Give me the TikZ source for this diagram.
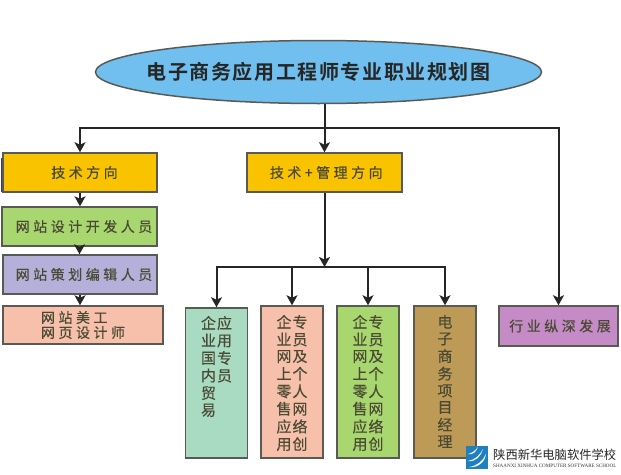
\documentclass[tikz,border=0pt]{standalone}
\usepackage{fontspec}
\setmainfont{Liberation Sans}
\newfontfamily\cjk[FakeBold=0.35]{Noto Sans CJK SC}
\newfontfamily\cjkwide[LetterSpace=25,FakeBold=0.35]{Noto Sans CJK SC}
\newfontfamily\cjktitle[LetterSpace=8]{Noto Sans CJK SC Bold}
\newfontfamily\cjkplain{Noto Sans CJK SC}
\newfontfamily\latinserif{Liberation Serif}
\usetikzlibrary{shapes.geometric,arrows.meta}
\definecolor{edgegrey}{HTML}{5A5A55}
\definecolor{inkdark}{HTML}{4A4A34}
\definecolor{skyfill}{HTML}{70BFEE}
\definecolor{amberfill}{HTML}{F9C300}
\definecolor{greenfill}{HTML}{A9D76F}
\definecolor{lavfill}{HTML}{B4B0DA}
\definecolor{salmonfill}{HTML}{F6C0AB}
\definecolor{mintfill}{HTML}{A9DAC2}
\definecolor{brownfill}{HTML}{BE9A57}
\definecolor{plumfill}{HTML}{C58BC6}
\definecolor{logoblue}{HTML}{1F7FC0}
\tikzset{
  x=1pt,y=-1pt,
  boxbase/.style={draw=edgegrey,line width=1.5pt,inner sep=0pt,text=inkdark,font=\cjkwide\fontsize{14}{16}\selectfont,align=center},
  hbox/.style={boxbase,minimum width=#1,minimum height=39pt},
  tallbox/.style={boxbase,minimum width=62pt,minimum height=152pt},
  conn/.style={line width=2pt,draw=black!85,line join=miter},
  arr/.style={conn,-{Stealth[length=10pt,width=11pt,inset=2.5pt]}},
}
\newcommand{\colstext}[1]{\parbox[c][134pt][t]{62pt}{\centering\fontsize{15}{17}\cjk\selectfont\renewcommand{\arraystretch}{0.97}#1}}
\begin{document}
\begin{tikzpicture}
\useasboundingbox (0,0) rectangle (621,474);
\node[ellipse,draw=edgegrey,fill=skyfill,line width=1.5pt,minimum width=446pt,minimum height=63pt,inner sep=0pt,text=black!85,font=\cjktitle\fontsize{20}{22}\selectfont] (title) at (318.5,72) {\makebox[0pt][c]{电子商务应用工程师专业职业规划图}};
% left column
\node[hbox=154pt,fill=amberfill] (tech) at (80,172.5) {\hspace*{9pt}技术方向};
\node[hbox=155pt,fill=greenfill] (dev) at (79.5,226.5) {\hspace*{9pt}网站设计开发人员};
\node[hbox=154pt,fill=lavfill] (plan) at (80,274.5) {\hspace*{8pt}网站策划编辑人员};
\node[boxbase,minimum width=160pt,minimum height=38pt,fill=salmonfill,align=left,font=\cjkwide\fontsize{14}{15}\selectfont] (art) at (83,325) {网站美工\\网页设计师};
% middle
\node[hbox=155pt,fill=amberfill] (mgmt) at (324.5,172.5) {\hspace*{3.5pt}技术+管理方向};
\node[tallbox,minimum height=150pt,fill=mintfill] (trade) at (216.5,383) {\colstext{\begin{tabular}[t]{@{}l@{\hspace{1pt}}l@{}}企&应\\业&用\\国&专\\内&员\\贸&\\易&\end{tabular}}};
\node[tallbox,fill=salmonfill] (retail) at (292,382) {\colstext{\begin{tabular}[t]{@{}l@{\hspace{1pt}}l@{}}企&专\\业&员\\网&及\\上&个\\零&人\\售&网\\应&络\\用&创\end{tabular}}};
\node[tallbox,fill=greenfill] (retailb) at (368,382) {\colstext{\begin{tabular}[t]{@{}l@{\hspace{1pt}}l@{}}企&专\\业&员\\网&及\\上&个\\零&人\\售&网\\应&络\\用&创\end{tabular}}};
\node[tallbox,fill=brownfill] (pm) at (445,382) {\colstext{\begin{tabular}[t]{@{}c@{}}电\\子\\商\\务\\项\\目\\经\\理\end{tabular}}};
\node[boxbase,minimum width=119pt,minimum height=40pt,fill=plumfill] (deep) at (558.5,326) {\hspace*{3pt}行业纵深发展};
% connectors
\coordinate (busTop) at (title.south -| mgmt.north);
\coordinate (busA) at (324.5,128);
\coordinate (busB) at (324.5,267);
\draw[conn] (busTop) -- (busA);
\draw[arr] (busA) -- (mgmt.north);
\draw[arr] (busA) -| (tech.north);
\draw[arr] (busA) -| (deep.north);
\draw[arr] (tech.south) -- (dev.north -| tech.south);
\draw[arr] (dev.south) -- (plan.north -| dev.south);
\draw[arr] (plan.south) -- (art.north -| plan.south);
\draw[arr] (mgmt.south) -- (busB);
\draw[arr] (busB) -| (trade.north);
\draw[arr] (busB) -| (retail.north);
\draw[arr] (busB) -| (retailb.north);
\draw[arr] (busB) -| (pm.north);
% stray edge mark at the left of the first box
\draw[line width=1pt,black!75] (1.5,158) -- (1.5,192);
% logo
\fill[logoblue] (466,446) rectangle (488,469);
\fill[white] (468,461) .. controls (475,460) and (480,455) .. (483,449) .. controls (481,456) and (476,462) .. (468,461) -- cycle;
\fill[white] (469,467) .. controls (477,466) and (483,461) .. (486,454) .. controls (485,462) and (478,468) .. (469,467) -- cycle;
\fill[white] (468,454) .. controls (472,453) and (475,451) .. (478,447) .. controls (476,452) and (473,455) .. (468,454) -- cycle;
\node[anchor=west,inner sep=0pt,text=black!85,font=\cjkplain\fontsize{12.3}{13}\selectfont] (brand) at (493,455) {陕西新华电脑软件学校};
\node[anchor=west,inner sep=0pt,text=black!80,font=\latinserif\fontsize{5.1}{6}\selectfont] (brandEn) at (493,466) {SHAANXI XINHUA COMPUTER SOFTWARE SCHOOL};
\end{tikzpicture}
\end{document}
